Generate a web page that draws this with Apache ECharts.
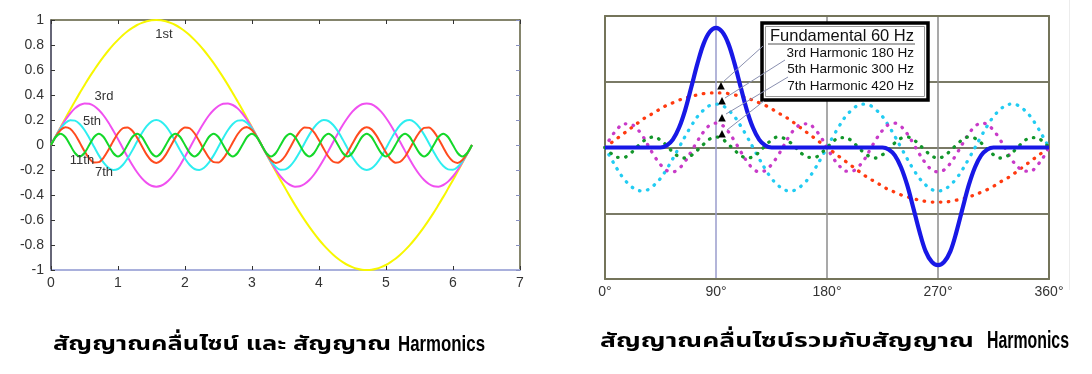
<!DOCTYPE html>
<html>
<head>
<meta charset="utf-8">
<script src="https://cdn.jsdelivr.net/npm/echarts@6/dist/echarts.min.js"></script>
<style>
html,body{margin:0;padding:0;background:#fff;}
#c{width:1092px;height:374px;}
</style>
</head>
<body>
<div id="c"></div>
<script>
// ---------- Left chart: sine wave and its harmonics (x in radians) ----------
const xs = [0,.071,.143,.214,.286,.357,.428,.500,.571,.643,.714,.785,.857,.928,1.000,1.071,1.142,1.214,1.285,1.357,1.428,1.499,1.571,
1.642,1.714,1.785,1.856,1.928,1.999,2.071,2.142,2.213,2.285,2.356,2.428,2.499,2.570,2.642,2.713,2.785,2.856,2.927,2.999,3.070,3.142,
3.213,3.284,3.356,3.427,3.499,3.570,3.641,3.713,3.784,3.856,3.927,3.998,4.070,4.141,4.212,4.284,4.355,4.427,4.498,4.570,4.641,4.712,
4.784,4.855,4.927,4.998,5.069,5.141,5.212,5.284,5.355,5.426,5.498,5.569,5.641,5.712,5.783,5.855,5.926,5.998,6.069,6.140,6.212,6.283];

const h1 = [0,.071,.142,.213,.282,.349,.415,.479,.541,.599,.655,.707,.756,.801,.841,.878,.910,.937,.960,.977,.990,.998,1,
.998,.990,.977,.960,.937,.910,.878,.841,.801,.756,.707,.655,.599,.541,.479,.415,.349,.282,.213,.142,.071,0,
-.071,-.142,-.213,-.282,-.349,-.415,-.479,-.541,-.599,-.655,-.707,-.756,-.801,-.841,-.878,-.910,-.937,-.960,-.977,-.990,-.998,-1,
-.998,-.990,-.977,-.960,-.937,-.910,-.878,-.841,-.801,-.756,-.707,-.655,-.599,-.541,-.479,-.415,-.349,-.282,-.213,-.142,-.071,0];

const h3 = [0,.071,.138,.200,.252,.293,.320,.333,.330,.312,.280,.236,.180,.116,.047,-.024,-.094,-.160,-.218,-.267,-.303,-.326,-.333,
-.326,-.303,-.267,-.218,-.160,-.094,-.024,.047,.116,.180,.236,.280,.312,.330,.333,.320,.293,.252,.200,.138,.071,0,
-.071,-.138,-.200,-.252,-.293,-.320,-.333,-.330,-.312,-.280,-.236,-.180,-.116,-.047,.024,.094,.160,.218,.267,.303,.326,.333,
.326,.303,.267,.218,.160,.094,.024,-.047,-.116,-.180,-.236,-.280,-.312,-.330,-.333,-.320,-.293,-.252,-.200,-.138,-.071,0];

const h5 = [0,.070,.131,.176,.198,.195,.168,.120,.056,-.014,-.083,-.141,-.182,-.200,-.192,-.160,-.108,-.043,.028,.096,.151,.187,.200,
.187,.151,.096,.028,-.043,-.108,-.160,-.192,-.200,-.182,-.141,-.083,-.014,.056,.120,.168,.195,.198,.176,.131,.070,0,
-.070,-.131,-.176,-.198,-.195,-.168,-.120,-.056,.014,.083,.141,.182,.200,.192,.160,.108,.043,-.028,-.096,-.151,-.187,-.200,
-.187,-.151,-.096,-.028,.043,.108,.160,.192,.200,.182,.141,.083,.014,-.056,-.120,-.168,-.195,-.198,-.176,-.131,-.070,0];

const h7 = [0,.068,.120,.143,.130,.086,.020,-.050,-.108,-.140,-.137,-.101,-.040,.030,.094,.134,.141,.114,.059,-.010,-.077,-.125,-.143,
-.125,-.077,-.010,.059,.114,.141,.134,.094,.030,-.040,-.101,-.137,-.140,-.108,-.050,.020,.086,.130,.143,.120,.068,0,
-.068,-.120,-.143,-.130,-.086,-.020,.050,.108,.140,.137,.101,.040,-.030,-.094,-.134,-.141,-.114,-.059,.010,.077,.125,.143,
.125,.077,.010,-.059,-.114,-.141,-.134,-.094,-.030,.040,.101,.137,.140,.108,.050,-.020,-.086,-.130,-.143,-.120,-.068,0];

const h11 = [0,.064,.091,.064,0,-.064,-.091,-.064, 0,.064,.091,.064,0,-.064,-.091,-.064, 0,.064,.091,.064,0,-.064,-.091,-.064,
0,.064,.091,.064,0,-.064,-.091,-.064, 0,.064,.091,.064,0,-.064,-.091,-.064, 0,.064,.091,.064,0,-.064,-.091,-.064,
0,.064,.091,.064,0,-.064,-.091,-.064, 0,.064,.091,.064,0,-.064,-.091,-.064, 0,.064,.091,.064,0,-.064,-.091,-.064,
0,.064,.091,.064,0,-.064,-.091,-.064, 0,.064,.091,.064,0,-.064,-.091,-.064, 0];

const leftNames = ['1st','3rd','5th','7th','11th'];

// ---------- Right chart: harmonics combined (x in degrees) ----------
const deg = [0,5,10,15,20,25,30,35,40,45,50,55,60,65,70,75,80,85,90,95,100,105,110,115,120,125,130,135,140,145,150,155,160,165,170,175,180,
185,190,195,200,205,210,215,220,225,230,235,240,245,250,255,260,265,270,275,280,285,290,295,300,305,310,315,320,325,330,335,340,345,350,355,360];

const fund = [0,.07,.14,.21,.28,.35,.42,.48,.53,.59,.64,.68,.72,.75,.78,.80,.82,.83,.83,.83,.82,.80,.78,.75,.72,.68,.64,.59,.53,.48,.42,.35,.28,.21,.14,.07,0,
-.07,-.14,-.21,-.28,-.35,-.42,-.48,-.53,-.59,-.64,-.68,-.72,-.75,-.78,-.80,-.82,-.83,-.83,-.83,-.82,-.80,-.78,-.75,-.72,-.68,-.64,-.59,-.53,-.48,-.42,-.35,-.28,-.21,-.14,-.07,0];

const third = [0,-.17,-.33,-.47,-.57,-.64,-.66,-.64,-.57,-.47,-.33,-.17,0,.17,.33,.47,.57,.64,.66,.64,.57,.47,.33,.17,
0,-.17,-.33,-.47,-.57,-.64,-.66,-.64,-.57,-.47,-.33,-.17,0,.17,.33,.47,.57,.64,.66,.64,.57,.47,.33,.17,
0,-.17,-.33,-.47,-.57,-.64,-.66,-.64,-.57,-.47,-.33,-.17,0,.17,.33,.47,.57,.64,.66,.64,.57,.47,.33,.17,0];

const fifth = [0,.16,.28,.36,.36,.30,.19,.03,-.13,-.26,-.35,-.37,-.32,-.21,-.06,.10,.24,.34,.37,.34,.24,.10,-.06,-.21,-.32,-.37,-.35,-.26,-.13,.03,.19,.30,.36,.36,.28,.16,0,
-.16,-.28,-.36,-.36,-.30,-.19,-.03,.13,.26,.35,.37,.32,.21,.06,-.10,-.24,-.34,-.37,-.34,-.24,-.10,.06,.21,.32,.37,.35,.26,.13,-.03,-.19,-.30,-.36,-.36,-.28,-.16,0];

const seventh = [0,-.09,-.15,-.15,-.10,-.01,.08,.14,.16,.11,.03,-.07,-.14,-.16,-.12,-.04,.05,.13,.16,.13,.05,-.04,-.12,-.16,-.14,-.07,.03,.11,.16,.14,.08,-.01,-.10,-.15,-.15,-.09,0,
.09,.15,.15,.10,.01,-.08,-.14,-.16,-.11,-.03,.07,.14,.16,.12,.04,-.05,-.13,-.16,-.13,-.05,.04,.12,.16,.14,.07,-.03,-.11,-.16,-.14,-.08,.01,.10,.15,.15,.09,0];

const combined = [0,0,0,0,0,0,0,0,0,0,
.03,.12,.30,.57,.92,1.28,1.58,1.76,1.82,1.76,1.58,1.28,.92,.57,.30,.12,.03,
0,0,0,0,0,0,0,0,0,0,0,0,0,0,0,0,0,0,0,
-.03,-.12,-.30,-.57,-.92,-1.28,-1.58,-1.74,-1.79,-1.74,-1.58,-1.28,-.92,-.57,-.30,-.12,-.03,
0,0,0,0,0,0,0,0,0,0];

const legendRows = ['Fundamental 60 Hz','3rd Harmonic 180 Hz','5th Harmonic 300 Hz','7th Harmonic 420 Hz'];
const captionLeft = 'สัญญาณคลื่นไซน์ และ สัญญาณ';
const captionRight = 'สัญญาณคลื่นไซน์รวมกับสัญญาณ';
const captionWord = 'Harmonics';

const zip = (a, b) => a.map((v, i) => [v, b[i]]);

const FONT = 'Liberation Sans, Arial, sans-serif';
const THAI = 'Noto Sans Thai, Noto Sans Thai UI, Loma, Garuda, Norasi, Tlwg Typo, Kinnari, Noto Sans, sans-serif';
const OLIVE = '#74745a';

const measureCtx = document.createElement('canvas').getContext('2d');
function fitScale(text, weight, size, family, width) {
  measureCtx.font = weight + ' ' + size + 'px ' + family;
  const w = measureCtx.measureText(text).width;
  return w > 0 ? width / w : 1;
}

const chart = echarts.init(document.getElementById('c'), null, {renderer: 'canvas'});

const leftLine = (name, data, color, z) => ({
  name, type: 'line', xAxisIndex: 0, yAxisIndex: 0, data, showSymbol: false, smooth: 0.3,
  lineStyle: {color, width: 2}, itemStyle: {color}, z, silent: true
});
const dotLine = (name, data, color) => ({
  name, type: 'line', xAxisIndex: 2, yAxisIndex: 2, data, showSymbol: false, smooth: 0.4,
  lineStyle: {color, width: 3.3, type: [0.5, 7.6], cap: 'round'}, itemStyle: {color}, z: 3, silent: true
});

const lbl = (t, x, y) => ({type: 'text', x, y, z: 50,
  style: {text: t, fill: '#333', fontSize: 13, fontFamily: FONT, textAlign: 'center', textVerticalAlign: 'middle', align: 'center', verticalAlign: 'middle'}});
const tri = (cx, cy) => ({type: 'polygon', z: 60, shape: {points: [[cx, cy - 4], [cx - 3.8, cy + 3.5], [cx + 3.8, cy + 3.5]]}, style: {fill: '#000'}});
const lead = (x1, y1, x2, y2) => ({type: 'line', z: 58, shape: {x1, y1, x2, y2}, style: {stroke: '#8a90b0', lineWidth: 1}});
const row = (t, y, size) => ({type: 'text', x: 914, y, z: 62,
  style: {text: t, fill: '#111', fontSize: size, fontFamily: FONT, textAlign: 'right', textVerticalAlign: 'middle', align: 'right', verticalAlign: 'middle'}});
const capText = (t, x, y, weight, size, family, width) => ({type: 'text', x, y, z: 70,
  scaleX: fitScale(t, weight, size, family, width),
  style: {text: t, fill: '#000', fontSize: size, fontWeight: weight, fontFamily: family,
          textAlign: 'left', textVerticalAlign: 'middle', align: 'left', verticalAlign: 'middle'}});

const option = {
  animation: false,
  backgroundColor: '#fff',
  grid: [
    {left: 51, top: 20, width: 469, height: 250, show: false},
    {left: 605, top: 16, width: 444, height: 263, show: false}
  ],
  xAxis: [
    {gridIndex: 0, type: 'value', min: 0, max: 7, interval: 1, position: 'bottom',
     axisLine: {onZero: false, lineStyle: {color: '#a9b0dc', width: 2}},
     axisTick: {inside: true, length: 4, lineStyle: {color: '#333'}},
     axisLabel: {color: '#333', fontSize: 14, fontFamily: FONT, margin: 6, showMinLabel: true, showMaxLabel: true},
     splitLine: {show: false}},
    {gridIndex: 0, type: 'value', min: 0, max: 7, interval: 1, position: 'top',
     axisLine: {onZero: false, lineStyle: {color: '#5c5c3c', width: 1.5}},
     axisTick: {inside: true, length: 4, lineStyle: {color: '#333'}},
     axisLabel: {show: false}, splitLine: {show: false}},
    {gridIndex: 1, type: 'value', min: 0, max: 360, interval: 90, position: 'bottom',
     axisLine: {onZero: false, lineStyle: {color: OLIVE, width: 2}},
     axisTick: {show: false},
     axisLabel: {color: '#333', fontSize: 14, fontFamily: FONT, margin: 6, formatter: v => v + '°', showMinLabel: true, showMaxLabel: true},
     splitLine: {show: true, lineStyle: {color: [OLIVE, '#9a9ccc', '#8c8c8c', '#8c8c8c', OLIVE], width: 1.5}}},
    {gridIndex: 1, type: 'value', min: 0, max: 360, interval: 90, position: 'top',
     axisLine: {onZero: false, lineStyle: {color: OLIVE, width: 2}},
     axisTick: {show: false}, axisLabel: {show: false}, splitLine: {show: false}}
  ],
  yAxis: [
    {gridIndex: 0, type: 'value', min: -1, max: 1, interval: 0.2, position: 'left',
     axisLine: {onZero: false, lineStyle: {color: '#33334a', width: 1.5}},
     axisTick: {inside: true, length: 4, lineStyle: {color: '#333'}},
     axisLabel: {color: '#333', fontSize: 14, fontFamily: FONT, margin: 7, showMinLabel: true, showMaxLabel: true},
     splitLine: {show: false}},
    {gridIndex: 0, type: 'value', min: -1, max: 1, interval: 0.2, position: 'right',
     axisLine: {onZero: false, lineStyle: {color: '#5c5c3c', width: 1.5}},
     axisTick: {inside: true, length: 4, lineStyle: {color: '#8890c0'}},
     axisLabel: {show: false}, splitLine: {show: false}},
    {gridIndex: 1, type: 'value', min: -2, max: 2, interval: 1, position: 'left',
     axisLine: {onZero: false, lineStyle: {color: OLIVE, width: 2}},
     axisTick: {show: false}, axisLabel: {show: false},
     splitLine: {show: true, lineStyle: {color: '#7a7a66', width: 2}}},
    {gridIndex: 1, type: 'value', min: -2, max: 2, interval: 1, position: 'right',
     axisLine: {onZero: false, lineStyle: {color: OLIVE, width: 2}},
     axisTick: {show: false}, axisLabel: {show: false}, splitLine: {show: false}}
  ],
  series: [
    leftLine(leftNames[0], zip(xs, h1), '#f7f700', 2),
    leftLine(leftNames[1], zip(xs, h3), '#f050f0', 3),
    leftLine(leftNames[2], zip(xs, h5), '#2eeef0', 4),
    leftLine(leftNames[3], zip(xs, h7), '#ff4b1e', 5),
    leftLine(leftNames[4], zip(xs, h11), '#14d82a', 6),
    dotLine(legendRows[0], zip(deg, fund), '#ff3a10'),
    dotLine(legendRows[1], zip(deg, third), '#22ccf2'),
    dotLine(legendRows[2], zip(deg, fifth), '#c83ac8'),
    dotLine(legendRows[3], zip(deg, seventh), '#12962a'),
    {name: 'Combined', type: 'line', xAxisIndex: 2, yAxisIndex: 2, data: zip(deg, combined), showSymbol: false, smooth: 0.35,
     lineStyle: {color: '#1818e6', width: 4.2}, itemStyle: {color: '#1818e6'}, z: 5, silent: true}
  ],
  graphic: [
    lbl(leftNames[0], 164, 34),
    lbl(leftNames[1], 104, 96),
    lbl(leftNames[2], 92, 121),
    lbl(leftNames[4], 82, 160),
    lbl(leftNames[3], 104, 172),
    {type: 'rect', z: 55, shape: {x: 762, y: 23, width: 166, height: 77}, style: {fill: '#fff', stroke: '#000', lineWidth: 3.5}},
    {type: 'rect', z: 56, shape: {x: 765.5, y: 26.5, width: 159, height: 70}, style: {fill: 'none', stroke: '#9a9a9a', lineWidth: 1}},
    {type: 'line', z: 61, shape: {x1: 768, y1: 44, x2: 915, y2: 44}, style: {stroke: '#555', lineWidth: 1}},
    row(legendRows[0], 36, 16.5),
    row(legendRows[1], 53, 13.5),
    row(legendRows[2], 69.5, 13.5),
    row(legendRows[3], 86, 13.5),
    lead(723, 82, 763, 46),
    lead(725, 98, 785, 60),
    lead(726, 114, 788, 77),
    lead(727, 130, 764, 101),
    tri(721, 86), tri(722, 101), tri(722, 118), tri(722, 134),
    {type: 'line', z: 1, shape: {x1: 1069.5, y1: 0, x2: 1069.5, y2: 290}, style: {stroke: '#ececec', lineWidth: 1}},
    capText(captionLeft, 53, 346, 'bold', 20, THAI, 338),
    capText(captionWord, 398, 345, 'bold', 22, FONT, 87),
    capText(captionRight, 600, 343, 'bold', 20, THAI, 374),
    capText(captionWord, 987, 342, 'bold', 23, FONT, 82)
  ]
};
chart.setOption(option);
</script>
</body>
</html>
